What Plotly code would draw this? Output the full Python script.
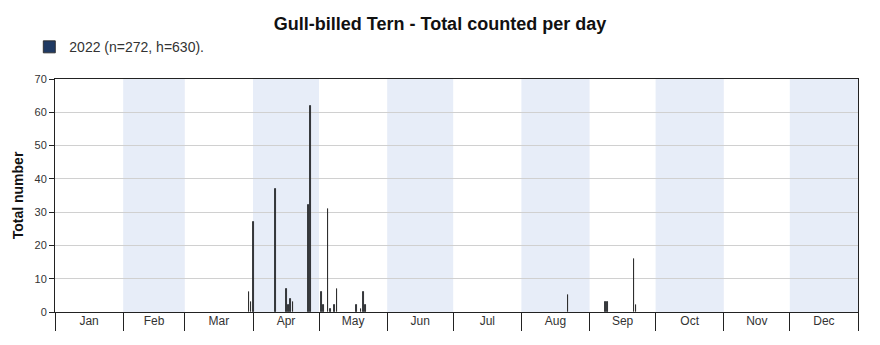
import plotly.graph_objects as go

# Daily counts of Gull-billed Tern, 2022
dates = [
    "2022-03-30", "2022-03-31", "2022-04-01", "2022-04-11", "2022-04-16",
    "2022-04-17", "2022-04-18", "2022-04-19", "2022-04-26", "2022-04-27",
    "2022-05-02", "2022-05-03", "2022-05-05", "2022-05-06", "2022-05-08",
    "2022-05-09", "2022-05-18", "2022-05-20", "2022-05-21", "2022-05-22",
    "2022-08-22", "2022-09-08", "2022-09-09", "2022-09-21", "2022-09-22",
]
counts = [
    6, 3, 27, 37, 7,
    2, 4, 3, 32, 62,
    6, 2, 31, 1, 2,
    7, 2, 1, 6, 2,
    5, 3, 3, 16, 2,
]
series_name = "2022 (n=272, h=630)."
title_text = "Gull-billed Tern - Total counted per day"
y_title = "Total number"

# month boundaries used for alternate shading
month_starts = [f"2022-{m:02d}-01" for m in range(1, 13)] + ["2023-01-01"]
shaded_months = [1, 3, 5, 7, 9, 11]  # Feb, Apr, Jun, Aug, Oct, Dec (0-based)

DAY_MS = 86400000
X_RANGE = ["2022-01-01", "2023-01-01"]

fig = go.Figure()
fig.add_trace(go.Bar(
    x=dates, y=counts, name=series_name,
    width=[0.3 * DAY_MS] * len(dates), offset=0,
    marker=dict(color="#1f3a63", line=dict(color="#2a2a2a", width=0.9)),
    showlegend=True,
))
# invisible helper trace so the month-label axis is rendered
fig.add_trace(go.Scatter(
    x=X_RANGE, y=[0, 0], xaxis="x2", mode="lines",
    line=dict(width=0), hoverinfo="skip", showlegend=False,
))

shapes = []
for i in shaded_months:
    shapes.append(dict(
        type="rect", xref="x", yref="paper",
        x0=month_starts[i], x1=month_starts[i + 1], y0=0, y1=1,
        fillcolor="#e7edf8", line=dict(width=0), layer="below",
    ))

fig.update_layout(
    width=880, height=345,
    margin=dict(l=55, r=22, t=79, b=33),
    paper_bgcolor="white", plot_bgcolor="white",
    font=dict(family="Liberation Sans, Arial, sans-serif", color="#333333", size=11),
    title=dict(text=f"<b>{title_text}</b>", x=0.5, xanchor="center",
               y=0.93, yanchor="middle",
               font=dict(size=18, color="#111111")),
    showlegend=True,
    legend=dict(x=-0.032, xanchor="left", y=1.205, yanchor="top",
                orientation="h", font=dict(size=14, color="#333333"),
                bgcolor="rgba(0,0,0,0)", itemwidth=30, tracegroupgap=0),
    shapes=shapes,
    bargap=0,
    # month separators below the plot
    xaxis=dict(
        type="date", range=X_RANGE,
        dtick="M1", tick0="2022-01-01",
        ticks="outside", ticklen=18, tickcolor="#222222", tickwidth=1,
        showticklabels=False, automargin=False,
        showline=True, linecolor="#222222", linewidth=1, mirror=True,
        showgrid=False, zeroline=False,
    ),
    # month names centred in each month
    xaxis2=dict(
        type="date", range=X_RANGE, overlaying="x", anchor="y", side="bottom",
        dtick="M1", tick0="2022-01-01", tickformat="%b",
        ticklabelmode="period", ticks="", showline=False,
        showgrid=False, zeroline=False, automargin=False,
        tickfont=dict(size=12, color="#333333"),
    ),
    yaxis=dict(
        range=[0, 70], dtick=10, ticks="outside", ticklen=5,
        tickcolor="#222222", showline=True, linecolor="#222222",
        linewidth=1, mirror=True, automargin=False,
        showgrid=True, gridcolor="#d0d0d0", gridwidth=1, zeroline=False,
        tickfont=dict(size=11, color="#333333"),
        title=dict(text=f"<b>{y_title}</b>", font=dict(size=14, color="#111111"),
                   standoff=7),
    ),
)

fig.write_html("out.html")
